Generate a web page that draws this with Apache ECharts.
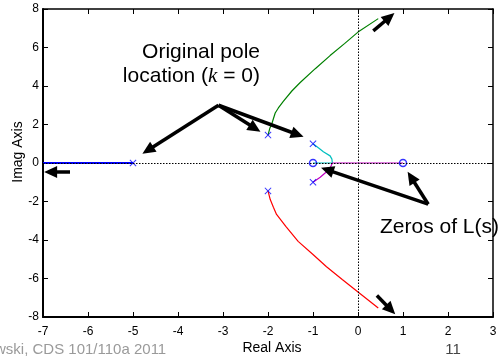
<!DOCTYPE html>
<html>
<head>
<meta charset="utf-8">
<script src="https://cdn.jsdelivr.net/npm/echarts@6/dist/echarts.min.js"></script>
<style>html,body{margin:0;padding:0;background:#fff}#c{width:501px;height:358px}</style>
</head>
<body>
<div id="c"></div>
<script>
// ---- data ----
const poles = [[-5, 0], [-2, 1.45], [-2, -1.45], [-1, 1], [-1, -1]];
const zeros = [[-1, 0], [1, 0]];
const branchBlue = [[-5, 0], [-7, 0]];
const branchGreen = [[-2, 1.45], [-1.96, 1.8], [-1.92, 2.0], [-1.84, 2.6], [-1.77, 2.86], [-1.66, 3.2], [-1.47, 3.74], [-1.29, 4.17], [-0.95, 4.9], [-0.62, 5.58], [-0.3, 6.2], [0, 6.8], [0.45, 7.5]];
const branchRed = [[-2, -1.45], [-1.95, -1.9], [-1.88, -2.3], [-1.81, -2.67], [-1.6, -3.3], [-1.33, -4.07], [-1.0, -4.75], [-0.7, -5.39], [-0.35, -6.05], [0, -6.7], [0.45, -7.53]];
const branchCyan = [[-1, 1], [-0.86, 0.75], [-0.77, 0.58], [-0.62, 0.37], [-0.58, 0.2], [-0.57, 0], [-1, 0]];
const branchMagenta = [[-1, -1], [-0.84, -0.74], [-0.66, -0.38], [-0.6, -0.16], [-0.57, 0], [1, 0]];
// annotation arrows: [start, end of shaft] (arrowhead centred on the end)
const arrows = [
  [[-3.1, 3.0], [-4.67, 0.66]],
  [[-3.1, 3.0], [-2.29, 1.80]],
  [[-3.1, 3.0], [-1.345, 1.48]],
  [[1.56, -2.14], [-0.684, -0.36]],
  [[1.56, -2.14], [1.18, -0.74]],
  [[0.34, 6.86], [0.70, 7.57]],
  [[0.42, -6.88], [0.727, -7.62]],
  [[-6.4, -0.47], [-6.83, -0.47]]
];
const xRange = [-7, 3, 1];
const yRange = [-8, 8, 2];
const xName = 'Real Axis';
const yName = 'Imag Axis';
const note1 = 'Original pole';
const note2a = 'location (';
const note2k = 'k';
const note2b = ' = 0)';
const note3 = 'Zeros of L(s)';
const footer = 'wski, CDS 101/110a 2011';
const pageNo = '11';

const FF = '"Liberation Sans", Arial, Helvetica, sans-serif';
const chart = echarts.init(document.getElementById('c'), null, {renderer: 'canvas'});

function axisBase(min, max, interval, pos, showLabel, lw) {
  return {
    type: 'value', min: min, max: max, interval: interval, position: pos,
    axisLine: {onZero: false, lineStyle: {color: '#000', width: lw}},
    axisTick: {inside: true, length: 5, lineStyle: {color: '#000', width: 1}},
    axisLabel: {show: showLabel, color: '#000', fontSize: 12, fontFamily: FF, margin: pos === 'bottom' ? 9 : 4},
    splitLine: {show: false}
  };
}

const crossPath = 'path://M0,1L1,0L5,4L9,0L10,1L6,5L10,9L9,10L5,6L1,10L0,9L4,5Z';

function lineSeries(data, color, w) {
  return {type: 'line', data: data, showSymbol: false, symbol: 'none', silent: true,
    lineStyle: {color: color, width: w}, z: 3, animation: false};
}

const option = {
  animation: false,
  grid: {left: 43, right: 8, top: 9, bottom: 41, containLabel: false},
  xAxis: [axisBase(xRange[0], xRange[1], xRange[2], 'bottom', true, 2), axisBase(xRange[0], xRange[1], xRange[2], 'top', false, 1.5)],
  yAxis: [axisBase(yRange[0], yRange[1], yRange[2], 'left', true, 2), axisBase(yRange[0], yRange[1], yRange[2], 'right', false, 1.5)],
  series: [
    {type: 'line', data: [], silent: true, z: 1,
      markLine: {silent: true, symbol: 'none', label: {show: false}, animation: false,
        lineStyle: {color: '#000', width: 1, type: [1.5, 1.5]},
        data: [{xAxis: 0}, {yAxis: 0}]}},
    lineSeries(branchBlue, '#0000ff', 2),
    lineSeries(branchGreen, '#008000', 1.2),
    lineSeries(branchRed, '#ff0000', 1.2),
    lineSeries(branchCyan, '#00bfbf', 1.2),
    lineSeries(branchMagenta, '#bf00bf', 1.2),
    {type: 'scatter', data: poles, symbol: crossPath, symbolSize: 7, silent: true, z: 4,
      itemStyle: {color: '#0000ff'}},
    {type: 'scatter', data: zeros, symbol: 'circle', symbolSize: 7, silent: true, z: 4,
      itemStyle: {color: 'rgba(255,255,255,0)', borderColor: '#0000ff', borderWidth: 1.5}},
    {type: 'line', data: [], silent: true, z: 6,
      markLine: {silent: true, symbol: ['none', 'triangle'], symbolSize: [12, 13], label: {show: false}, animation: false,
        lineStyle: {color: '#000', width: 3.5, type: 'solid'},
        itemStyle: {color: '#000'},
        data: arrows.map(a => [{coord: a[0]}, {coord: a[1]}])}}
  ],
  graphic: [
    {type: 'text', x: 260, y: 52, style: {text: note1, font: '21px ' + FF, fill: '#000', textAlign: 'right', textVerticalAlign: 'middle'}},
    {type: 'text', x: 260, y: 76, style: {
      rich: {n: {font: '21px ' + FF, fill: '#000'}, k: {font: 'italic 21px "Liberation Serif", "Times New Roman", serif', fill: '#000'}},
      text: '{n|' + note2a + '}{k|' + note2k + '}{n|' + note2b + '}', textAlign: 'right', textVerticalAlign: 'middle'}},
    {type: 'text', x: 380, y: 227, style: {text: note3, font: '21px ' + FF, fill: '#000', textAlign: 'left', textVerticalAlign: 'middle'}},
    {type: 'text', x: 272, y: 348, style: {text: xName, font: '14px ' + FF, fill: '#000', textAlign: 'center', textVerticalAlign: 'middle'}},
    {type: 'text', x: 18, y: 152, rotation: Math.PI / 2, style: {text: yName, font: '14px ' + FF, fill: '#000', textAlign: 'center', textVerticalAlign: 'middle'}},
    {type: 'text', x: -5, y: 350, style: {text: footer, font: '15px ' + FF, fill: '#9a9a9a', textAlign: 'left', textVerticalAlign: 'middle'}},
    {type: 'text', x: 453, y: 350, style: {text: pageNo, font: '15px ' + FF, fill: '#444', textAlign: 'center', textVerticalAlign: 'middle'}}
  ]
};
chart.setOption(option);
</script>
</body>
</html>
